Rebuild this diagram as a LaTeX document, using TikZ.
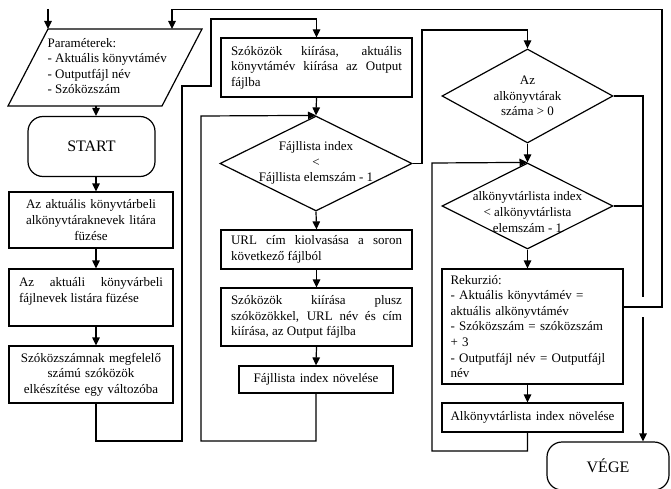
\documentclass[tikz,border=0pt]{standalone}
\usepackage{fontspec}
\setmainfont{Liberation Serif}
\usetikzlibrary{shapes.geometric,arrows.meta}
\begin{document}
\begin{tikzpicture}[x=1pt,y=-1pt,line width=1.2pt]
	\useasboundingbox (0,0) rectangle (671,489);
	\clip (0,0) rectangle (671,489);
	\tikzstyle every node=[font=\fontsize{13}{15.6}\selectfont]
	\tikzstyle box=[draw,rectangle,inner xsep=10pt,inner ysep=0pt]
	\tikzstyle cbox=[box,inner xsep=4pt,align=center]
	\tikzstyle jbox=[box,align=justify]
	\tikzstyle dia=[draw,diamond,inner sep=0pt]
	\tikzstyle term=[draw,rectangle,rounded corners=15pt,font=\fontsize{16}{18}\selectfont]
	\tikzstyle arr=[-{Triangle[length=8pt,width=7.5pt]}]

	\draw (48,29) coordinate (p1) -- (202,29) coordinate (p2) -- (162,106) coordinate (p3) -- (8,106) coordinate (p4) -- cycle;
	\node[anchor=west,align=left,inner sep=0pt] (pt) at (47,66) {Paraméterek:\\- Aktuális könyvtámév\\- Outputfájl név\\- Szóközszám};
	\coordinate (p5) at (172,29);
	\coordinate (top) at (48,9);
	\coordinate (ax) at (96,0);

	\node[term,minimum width=127pt,minimum height=60pt] (st) at (91.5,146.5) {START};
	\node[cbox,text width=156pt,minimum height=56pt] (s1) at (91,220) {Az aktuális könyvtárbeli\\alkönyvtáraknevek litára\\füzése};
	\node[jbox,text width=144pt,minimum height=57pt] (s2) at (91,297.5) {Az aktuáli könyvárbeli\linebreak fájlnevek listára füzése\\\mbox{}};
	\node[cbox,text width=156pt,minimum height=57pt] (s3) at (91,374.5) {Szóközszámnak megfelelő\\számú szóközök\\elkészítése egy változóba};

	\node[jbox,text width=171pt,minimum height=59pt] (s4) at (316.5,67.5) {Szóközök kiírása, aktuális\linebreak könyvtámév kiírása az Output\linebreak fájlba};
	\node[dia,minimum width=192pt,minimum height=95pt] (d1) at (316,163.5) {};
	\node[align=center] (d1t) at (316,163) {Fájllista index\\<\\Fájllista elemszám - 1};
	\node[jbox,text width=171pt,minimum height=39pt] (s5) at (316.5,249.5) {URL cím kiolvasása a soron\linebreak következő fájlból};
	\node[jbox,text width=171pt,minimum height=58pt] (s6) at (316.5,317) {Szóközök kiírása plusz\linebreak szóközökkel, URL név és cím\linebreak kiírása, az Output fájlba};
	\node[cbox,text width=146pt,minimum height=27pt] (s7) at (316,379.5) {Fájllista index növelése};

	\node[dia,minimum width=171pt,minimum height=94pt] (d2) at (527.5,96) {};
	\node[align=center] (d2t) at (527.5,96) {Az\\alkönyvtárak\\száma > 0};
	\node[dia,minimum width=171pt,minimum height=86pt] (d3) at (527.5,206) {};
	\node[align=center] (d3t) at (527.5,212) {alkönyvtárlista index\\< alkönyvtárlista\\elemszám - 1};
	\node[box,inner xsep=8.5pt,text width=164pt,align=left,minimum height=115pt] (r1) at (532.5,326.5) {Rekurzió:\\- Aktuális könyvtámév =\\aktuális alkönyvtámév\\- Szóközszám = szóközszám\\+ 3\\- Outputfájl név = Outputfájl\\név};
	\node[cbox,text width=173pt,minimum height=29pt] (r2) at (532.5,417.5) {Alkönyvtárlista index növelése};
	\node[term,minimum width=122pt,minimum height=48pt] (ve) at (608,466) {VÉGE};

	\coordinate (jA) at (643,297);
	\coordinate (jB) at (643,317);
	\coordinate (rx) at (662,307);

	\draw[arr] (top) -- (p1);
	\draw[arr] (p4 -| ax) -- (st.north -| ax);
	\draw[arr] (st.south -| ax) -- (s1.north -| ax);
	\draw[arr] (s1.south -| ax) -- (s2.north -| ax);
	\draw[arr] (s2.south -| ax) -- (s3.north -| ax);
	\draw[arr] (s3.south -| ax) -- (96,441) -- (182,441) -- (182,86) -- (211,86) -- (211,19) -| (s4.north);

	\draw[arr] (s4.south) -- (d1.north);
	\draw[arr] (d1.south) -- (s5.north);
	\draw[arr] (s5.south) -- (s6.north);
	\draw[arr] (s6.south) -- (s7.north);
	\draw[arr] (s7.south) -- (316,441) -- (201,441) -- (201,116) -- (d1.north);
	\draw[arr] (d1.east) -- (422,163.5) -- (422,30) -| (d2.north);

	\draw[arr] (d2.south) -- (d3.north);
	\draw[arr] (d3.south) -- (d3.south |- r1.north);
	\draw[arr] (d3.south |- r1.south) -- (d3.south |- r2.north);
	\draw[arr] (d3.south |- r2.south) -- (527.5,451) -- (432,451) -- (432,163) -- (d3.north);

	\draw (d2.east) -- (643,96) -- (jA);
	\draw (d3.east) -- (643,206);
	\draw[arr] (jB) -- (ve.north -| jB);
	\draw[arr] (r1.east |- rx) -- (rx) -- (662,9.5) -- (172,9.5) -- (p5);
\end{tikzpicture}
\end{document}
